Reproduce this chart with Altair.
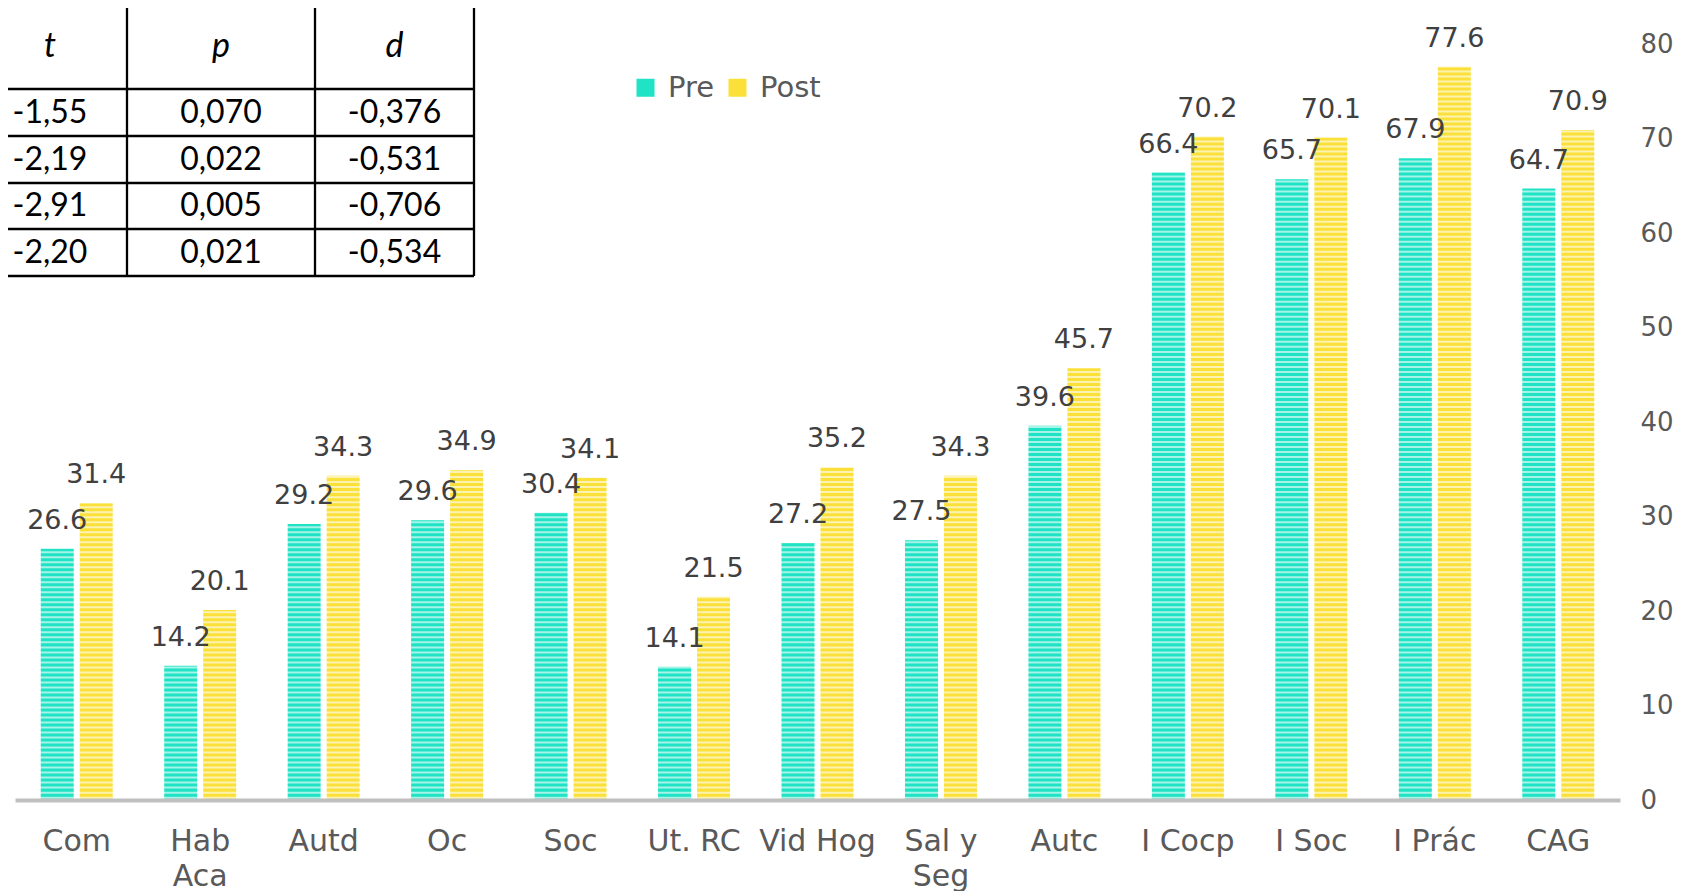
import altair as alt
import pandas as pd

# ---- data ----
categories = ["Com", "Hab Aca", "Autd", "Oc", "Soc", "Ut. RC", "Vid Hog",
              "Sal y Seg", "Autc", "I Cocp", "I Soc", "I Prác", "CAG"]
pre = [26.6, 14.2, 29.2, 29.6, 30.4, 14.1, 27.2, 27.5, 39.6, 66.4, 65.7, 67.9, 64.7]
post = [31.4, 20.1, 34.3, 34.9, 34.1, 21.5, 35.2, 34.3, 45.7, 70.2, 70.1, 77.6, 70.9]
series = ["Pre", "Post"]
y_ticks = [0, 10, 20, 30, 40, 50, 60, 70, 80]

table_headers = ["t", "p", "d"]
t_vals = ["-1,55", "-2,19", "-2,91", "-2,20"]
p_vals = ["0,070", "0,022", "0,005", "0,021"]
d_vals = ["-0,376", "-0,531", "-0,706", "-0,534"]

rows = []
for c, a, b in zip(categories, pre, post):
    rows.append({"cat": c, "serie": "Pre", "valor": a})
    rows.append({"cat": c, "serie": "Post", "valor": b})
df = pd.DataFrame(rows)

cells = []
for j, h in enumerate(table_headers):
    cells.append({"col": j, "row": 0, "txt": h, "hdr": 1})
for i, vals in enumerate(zip(t_vals, p_vals, d_vals)):
    for j, v in enumerate(vals):
        cells.append({"col": j, "row": i + 1, "txt": v, "hdr": 0})
tdf = pd.DataFrame(cells)

n_rows = len(t_vals) + 1
n_cols = len(table_headers)
hlines = pd.DataFrame({"r": list(range(1, n_rows + 1)), "c0": 0, "c1": n_cols})
vlines = pd.DataFrame({"c": list(range(1, n_cols + 1)), "r0": 0, "r1": n_rows})

W, H = 1605, 756
FONT = "DejaVu Sans"
GRAY = "#595959"

label_expr = ("datum.label == 'Hab Aca' ? ['Hab', 'Aca'] : "
              "datum.label == 'Sal y Seg' ? ['Sal y', 'Seg'] : datum.label")

x_axis = alt.Axis(title=None, labelAngle=0, labelFont=FONT, labelFontSize=30,
                  labelColor=GRAY, labelPadding=26, ticks=False, tickSize=0,
                  domainColor="#bfbfbf", domainWidth=4, labelLineHeight=35,
                  labelLimit=400, labelExpr=label_expr, grid=False, zindex=1)
y_axis = alt.Axis(title=None, orient="right", values=y_ticks, labelFont=FONT,
                  labelFontSize=26, labelColor=GRAY, labelPadding=20,
                  ticks=False, tickSize=0, domain=False, grid=False, zindex=1)
y_scale = alt.Scale(domain=[0, 80], nice=False)

x_main = alt.X("cat:N", sort=categories,
               scale=alt.Scale(paddingInner=0.417, paddingOuter=0.2085), axis=x_axis)
xo = alt.XOffset("serie:N", sort=series, scale=alt.Scale(paddingInner=0.154))
y_main = alt.Y("valor:Q", scale=y_scale, axis=y_axis)
color = alt.Color("serie:N", sort=series,
                  scale=alt.Scale(domain=series, range=["#1fe3c4", "#fbe03a"]),
                  legend=alt.Legend(title=None, orient="none", legendX=616, legendY=29,
                                    direction="horizontal", symbolType="square",
                                    symbolSize=324, symbolStrokeWidth=0,
                                    labelFont=FONT, labelFontSize=29, labelColor=GRAY,
                                    labelOffset=8, columnPadding=8, zindex=1))

base = alt.Chart(df)
bars = base.mark_bar().encode(x=x_main, xOffset=xo, y=y_main, color=color)

stripes = alt.Chart(alt.sequence(0.25, 79, 0.53, as_="valor")).mark_rule(
    color="white", opacity=0.6, strokeWidth=2
).encode(y=alt.Y("valor:Q", scale=y_scale, axis=y_axis))

labels = base.mark_text(dy=-20, baseline="alphabetic", font=FONT, fontSize=27,
                        color="#404040").encode(
    x=x_main,
    xOffset=xo,
    y=y_main,
    text=alt.Text("valor:Q", format=".1f"),
)

main = alt.layer(bars, stripes, labels)

# ---- table overlay ----
tx_scale = alt.Scale(domain=[0, 1, 2, 3], range=[-160, 112, 300, 459], zero=False, nice=False)
ty_scale = alt.Scale(domain=[0, 1, 2, 3, 4, 5], range=[-120, 45, 92, 139, 185, 232],
                     zero=False, nice=False)

hrules = alt.Chart(hlines).mark_rule(color="black", strokeWidth=2.3).encode(
    y=alt.Y("r:Q", scale=ty_scale, axis=None),
    x=alt.X("c0:Q", scale=tx_scale, axis=None), x2="c1:Q",
)
vrules = alt.Chart(vlines).mark_rule(color="black", strokeWidth=2.3).encode(
    x=alt.X("c:Q", scale=tx_scale, axis=None),
    y=alt.Y("r0:Q", scale=ty_scale, axis=None), y2="r1:Q",
)

tbase = alt.Chart(tdf).transform_calculate(
    cy="datum.row + 0.5",
    cx="datum.col == 0 ? 0.717 : datum.col + 0.5",
    hy="0.745",
)
ttext = tbase.transform_filter("datum.hdr == 0").mark_text(
    font="Lato", fontSize=32, color="black", baseline="middle", align="center"
).encode(x=alt.X("cx:Q", scale=tx_scale, axis=None),
         y=alt.Y("cy:Q", scale=ty_scale, axis=None), text="txt:N")
thdr = tbase.transform_filter("datum.hdr == 1").mark_text(
    font="Lato", fontSize=34, fontStyle="italic", color="black", baseline="middle",
    align="center"
).encode(x=alt.X("cx:Q", scale=tx_scale, axis=None),
         y=alt.Y("hy:Q", scale=ty_scale, axis=None), text="txt:N")

table = alt.layer(hrules, vrules, ttext, thdr)

chart = alt.layer(main, table).resolve_scale(
    x="independent", y="independent"
).properties(
    width=W, height=H,
    autosize=alt.AutoSizeParams(type="none"),
    padding={"left": 7, "top": 36, "right": 54, "bottom": 91},
).configure_view(stroke=None)

chart.save("out.html", embed_options={"renderer": "svg", "actions": False})
